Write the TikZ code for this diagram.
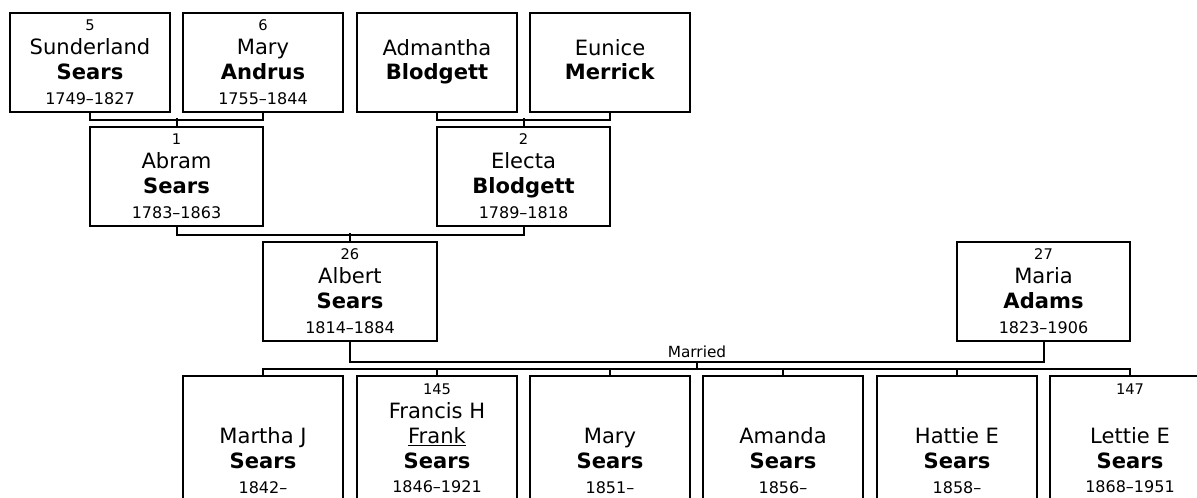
\documentclass[tikz,border=0pt]{standalone}
\usepackage{fontspec}
\setmainfont{DejaVu Sans}
\usetikzlibrary{positioning}

\newcommand{\idno}{\fontsize{11}{18}\selectfont}
\newcommand{\yrs}{\fontsize{12}{18}\selectfont}

\begin{document}
\begin{tikzpicture}[x={(0.75pt,0)}, y={(0,-0.75pt)},
  person/.style={draw, line width=1.5pt, align=center, minimum width=120pt,
    minimum height=74.25pt, inner sep=0pt, font=\fontsize{15.8}{18.5}\selectfont},
  parent/.style={person, minimum width=130pt},
  kid/.style={person, anchor=north, inner ysep=1pt},
  link/.style={line width=1.5pt}]
\useasboundingbox (0,0) rectangle (1197,498);
\clip (0,0) rectangle (1197,498);
% grandparents
\node[person] (sunder) at (90,62.5) {{\idno\strut 5}\\ Sunderland\\ \textbf{Sears}\\ {\yrs 1749--1827\strut}};
\node[person] (andrus) at (263,62.5) {{\idno\strut 6}\\ Mary\\ \textbf{Andrus}\\ {\yrs 1755--1844\strut}};
\node[person] (admantha) at (437,62.5) {\strut Admantha\\ \textbf{Blodgett}\strut};
\node[person] (eunice) at (610,62.5) {\strut Eunice\\ \textbf{Merrick}\strut};
% parents
\node[parent] (abram) at (176.5,176.5) {{\idno\strut 1}\\ Abram\\ \textbf{Sears}\\ {\yrs 1783--1863\strut}};
\node[parent] (electa) at (523.5,176.5) {{\idno\strut 2}\\ Electa\\ \textbf{Blodgett}\\ {\yrs 1789--1818\strut}};
\node[parent] (albert) at (350,291.5) {{\idno\strut 26}\\ Albert\\ \textbf{Sears}\\ {\yrs 1814--1884\strut}};
\node[parent] (maria) at (1043.5,291.5) {{\idno\strut 27}\\ Maria\\ \textbf{Adams}\\ {\yrs 1823--1906\strut}};
% children
\node[kid] (martha) at (263,375) {\strut\\ \strut\\ Martha J\\ \textbf{Sears}\\ {\yrs 1842--}\\ \strut\\ \strut};
\node[kid] (francis) at (437,375) {{\idno\strut 145}\\ Francis H\\ \underline{Frank}\\ \textbf{Sears}\\ {\yrs 1846--1921}\\ \strut\\ \strut};
\node[kid] (mary) at (610,375) {\strut\\ \strut\\ Mary\\ \textbf{Sears}\\ {\yrs 1851--}\\ \strut\\ \strut};
\node[kid] (amanda) at (783,375) {\strut\\ \strut\\ Amanda\\ \textbf{Sears}\\ {\yrs 1856--}\\ \strut\\ \strut};
\node[kid] (hattie) at (957,375) {\strut\\ \strut\\ Hattie E\\ \textbf{Sears}\\ {\yrs 1858--}\\ \strut\\ \strut};
\node[kid] (lettie) at (1130,375) {{\idno\strut 147}\\ \strut\\ Lettie E\\ \textbf{Sears}\\ {\yrs 1868--1951}\\ \strut\\ \strut};

% lines
\draw[link] (sunder.south) -- ++(0,7) -| (andrus.south);
\draw[link] (abram.north) -- ++(0,-8);
\draw[link] (admantha.south) -- ++(0,7) -| (eunice.south);
\draw[link] (electa.north) -- ++(0,-8);
\draw[link] (abram.south) -- ++(0,8) -| (electa.south);
\draw[link] (albert.north) -- ++(0,-8);
\draw[link] (albert.south) -- ++(0,20) -| (maria.south);
\node (wed) at (697,352) {\fontsize{11.5}{14}\selectfont Married};
\coordinate (couple) at (697,361);
\draw[link] (martha.north) -- ++(0,-6) -| (lettie.north);
\draw[link] (couple) -- ++(0,8);
\foreach \k in {francis,mary,amanda,hattie}
  \draw[link] (\k.north) -- ++(0,-6);
\end{tikzpicture}
\end{document}
